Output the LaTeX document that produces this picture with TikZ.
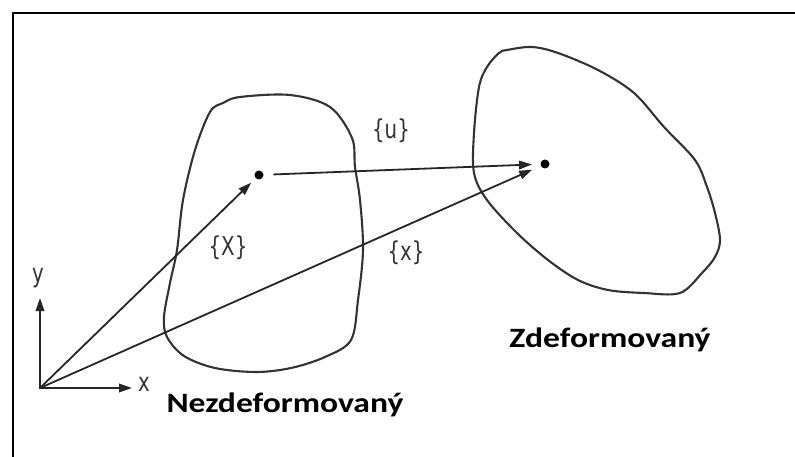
\documentclass[tikz,border=0pt]{standalone}
\usepackage{fontspec}
\newfontfamily\labelfont[FakeStretch=0.76]{DejaVu Sans}
\newfontfamily\titlefont[FakeStretch=1.2]{Carlito}
\usetikzlibrary{arrows.meta}

\begin{document}
\begin{tikzpicture}[x=1pt,y=-1pt,>={Triangle[length=13pt,width=8.5pt]},line cap=round,line join=round,
  vec/.style={->,line width=1.8pt,black!85},
  body/.style={line width=2.1pt,black!80},
  lbl/.style={font=\labelfont\fontsize{26}{28}\selectfont,text=black!80,inner sep=0pt},
  ttl/.style={font=\titlefont\bfseries\fontsize{28}{30}\selectfont,inner sep=0pt,anchor=base}]
\useasboundingbox (0,0) rectangle (795,457);
\draw[line width=2.2pt] (795,13) -- (13,13) -- (13,457);
\coordinate (O) at (40,388);
\coordinate (Xend) at (132,388);
\coordinate (Yend) at (40,298);
\coordinate (P) at (259,175);
\coordinate (Q) at (545,164);
% undeformed body
\draw[body] plot[smooth cycle,tension=0.55] coordinates {(240,97) (290,95) (330,107) (352,138) (355,167)
  (360,200) (363,250) (358,300) (351,340) (325,357) (291,368) (256,372) (215,368) (184,356)
  (167,337) (164,317) (170,283) (177,250) (183,200) (195,150) (210,112) (223,103)};
% deformed body
\draw[body] plot[smooth cycle,tension=0.55] coordinates {(507,50) (532,47) (558,53) (598,70) (634,93)
  (664,127) (695,160) (707,187) (715,213) (720,240) (715,257) (702,273) (680,293) (644,293)
  (608,290) (578,280) (548,260) (517,233) (487,200) (474,173) (474,133) (479,87) (487,67) (499,53)};
% axes
\draw[vec] (O) -- (Xend);
\draw[vec] (O) -- (Yend);
% vectors
\draw[vec,shorten >=11pt] (O) -- (P);
\draw[vec,shorten >=14pt] (O) -- (Q);
\draw[vec,shorten <=15pt,shorten >=13pt] (P) -- (Q);
\fill (P) circle (4.5pt);
\fill (Q) circle (4.5pt);
\node[lbl] (ylab) at (38,278) {y};
\node[lbl] (xlab) at (144,384) {x};
\node[lbl] (Xlab) at (228,248) {\{X\}};
\node[lbl] (xvec) at (406,253) {\{x\}};
\node[lbl] (ulab) at (391,131) {\{u\}};
\node[ttl] (undef) at (285,412) {Nezdeformovaný};
\node[ttl] (def) at (610,347) {Zdeformovaný};
\end{tikzpicture}
\end{document}
